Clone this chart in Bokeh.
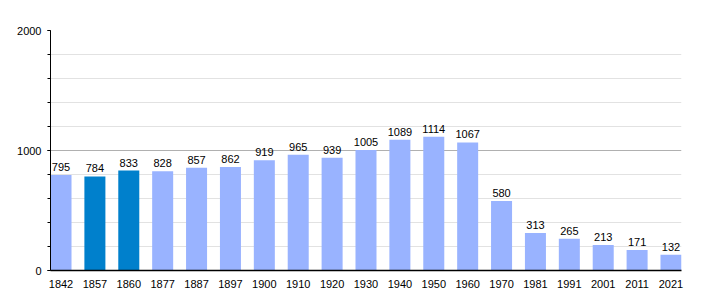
from bokeh.plotting import figure
from bokeh.models import ColumnDataSource, FixedTicker, Range1d
from bokeh.core.properties import value
from bokeh.embed import file_html
from bokeh.resources import INLINE

years = ["1842", "1857", "1860", "1877", "1887", "1897", "1900", "1910", "1920", "1930",
         "1940", "1950", "1960", "1970", "1981", "1991", "2001", "2011", "2021"]
population = [795, 784, 833, 828, 857, 862, 919, 965, 939, 1005,
              1089, 1114, 1067, 580, 313, 265, 213, 171, 132]
highlight = ["1857", "1860"]

LIGHT = "#99b3ff"
DARK = "#0080cc"

xs = list(range(len(years)))
colors = [DARK if y in highlight else LIGHT for y in years]
labels = [str(v) for v in population]
src = ColumnDataSource(dict(x=xs, top=population, color=colors, label=labels))

bw = 0.62
p = figure(width=710, height=300, output_backend="svg", toolbar_location=None,
           x_range=Range1d(-bw / 2, len(years) - 1 + bw / 2), y_range=Range1d(0, 2000),
           min_border_left=50, min_border_right=29, min_border_top=30, min_border_bottom=30)
p.outline_line_color = None
p.background_fill_color = "white"
p.border_fill_color = "white"

p.vbar(x="x", top="top", width=bw, bottom=0, color="color", source=src, line_color=None)
p.text(x="x", y="top", text="label", source=src, text_align="center", text_baseline="bottom",
       y_offset=-4, text_font=value("Liberation Sans"), text_font_size="11px", text_color="black")

# y axis
p.yaxis.ticker = FixedTicker(ticks=[0, 1000, 2000], minor_ticks=list(range(0, 2001, 200)))
p.yaxis.axis_line_color = "black"
p.yaxis.major_tick_out = 3
p.yaxis.major_tick_in = 0
p.yaxis.minor_tick_out = 3
p.yaxis.minor_tick_in = 0
p.yaxis.major_tick_line_color = "black"
p.yaxis.minor_tick_line_color = "black"
p.yaxis.major_label_text_font = "Liberation Sans"
p.yaxis.major_label_text_font_size = "11px"
p.yaxis.major_label_text_color = "black"
p.yaxis.major_label_standoff = 6

# x axis
p.xaxis.ticker = FixedTicker(ticks=xs)
p.xaxis.major_label_overrides = {i: y for i, y in enumerate(years)}
p.xaxis.axis_line_color = "black"
p.xaxis.axis_line_width = 1.5
p.xaxis.major_tick_line_color = None
p.xaxis.minor_tick_line_color = None
p.xaxis.major_label_text_font = "Liberation Sans"
p.xaxis.major_label_text_font_size = "11px"
p.xaxis.major_label_text_color = "black"
p.xaxis.major_label_standoff = 3

# grids
p.xgrid.grid_line_color = None
p.ygrid.ticker = FixedTicker(ticks=[1000, 2000], minor_ticks=[200, 400, 600, 800, 1200, 1400, 1600, 1800])
p.ygrid.grid_line_color = "#b0b0b0"
p.ygrid.minor_grid_line_color = "#e2e2e2"
p.ygrid.level = "underlay"

open("out.html", "w").write(file_html(p, INLINE))
